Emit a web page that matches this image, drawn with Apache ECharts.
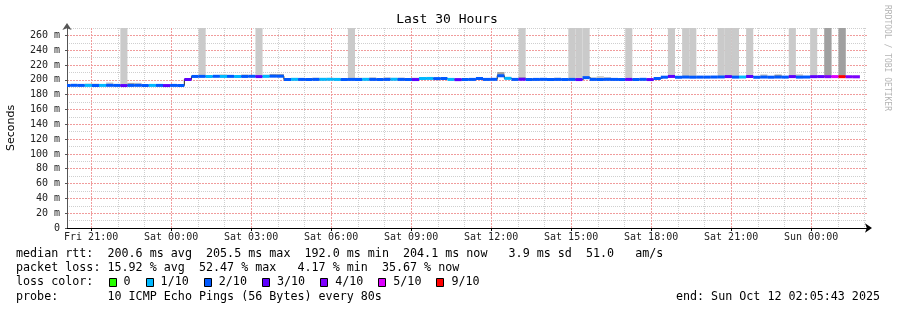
<!DOCTYPE html>
<html><head><meta charset="utf-8">
<script src="https://cdn.jsdelivr.net/npm/echarts@6/dist/echarts.min.js"></script>
<style>html,body{margin:0;padding:0;background:#fff}#c{width:897px;height:310px}</style>
</head><body><div id="c"></div><script>
// time in hours counted from Fri 00:00
const startHour = 20 + 5 / 60 + 43 / 3600;   // Fri 20:05:43
const spanHours = 30;
const stepMinutes = 16;

// median rtt per 16-minute step (ms)
const median = [
  192.4,192.6,192.5,192.5,192.4,192.5,192.6,192.5,192.3,192.5,192.6,192.4,192.5,192.5,192.3,192.5,192.4,
  200.5,
  204.6,204.7,204.5,204.8,204.6,204.7,204.5,204.6,204.8,204.4,204.7,205.0,204.9,
  200.5,200.7,200.6,200.5,200.6,200.7,200.8,200.6,200.5,200.6,200.5,200.7,200.6,200.5,200.6,
  200.8,200.6,200.5,200.4,201.8,201.9,201.7,201.8,200.6,200.3,200.5,200.6,201.8,200.6,200.7,
  205.5,202.0,
  200.6,200.8,200.5,200.6,200.7,200.5,200.6,200.5,200.6,200.4,203.0,
  200.6,200.5,200.7,200.6,200.5,200.6,200.5,200.7,200.4,201.8,
  203.6,204.6,203.5,203.8,203.6,203.7,203.7,203.8,203.9,204.4,203.7,203.8,204.5,203.5,
  203.8,203.6,203.8,203.7,204.4,203.7,203.8,204.3,204.4,204.3,204.4,204.3,204.2,204.1
];
// lost pings out of 10 per step
const lossCount = [
  2,2,2,1,2,1,2,2,3,2,2,2,1,2,3,2,2,
  3,
  2,2,1,2,1,2,1,2,2,3,1,2,2,
  2,1,2,2,2,1,1,1,2,2,2,1,2,2,2,
  1,2,2,3,1,1,2,2,1,3,2,2,2,2,2,
  2,1,
  2,3,2,2,2,2,2,2,2,3,2,
  2,2,2,2,2,3,2,2,3,2,
  2,3,2,2,2,2,2,2,2,3,2,1,3,2,
  2,2,2,2,3,2,2,3,3,4,5,9,4,4
];
// top of light smoke (ms), null = none above the median
const smokeTop = [
  194.5,194.5,null,195,195,null,196.5,null,300,196,196,null,null,null,null,null,null,
  null,
  null,300,null,null,207.5,null,null,207.5,null,300,207,208,208,
  202.5,202.5,null,202.5,203,202.5,202,null,null,300,203,null,203.5,null,203.5,
  202.5,203,null,203,null,null,null,null,202.5,202.5,null,null,null,202.5,null,
  210.5,204,
  null,300,null,null,null,null,203,null,300,300,300,
  203.5,205,203,202.5,202.5,300,null,202.5,null,203.5,
  null,300,null,300,300,null,null,null,300,300,300,null,300,null,
  207.5,null,207,null,300,207.5,null,300,null,300,null,300,null,206
];
// top of dark smoke (ms), null = none
const smokeDark = [
  null,null,null,null,null,null,null,null,null,195.5,null,null,null,null,null,null,null,
  null,
  null,null,null,null,null,null,null,null,null,null,null,207.5,207.5,
  null,null,null,null,202.5,null,null,null,null,null,null,null,null,null,null,
  null,202.5,null,null,null,null,null,null,null,null,null,null,null,null,null,
  210.5,null,
  null,203.5,null,null,null,null,null,null,null,null,null,
  null,null,203,null,null,null,null,null,null,null,
  null,null,null,null,null,null,null,null,null,null,null,null,null,null,
  null,null,207,null,null,null,null,null,null,300,null,300,null,null
];

const lossLevels = [0, 1, 2, 3, 4, 5, 9];
const lossLabels = ['0', '1/10', '2/10', '3/10', '4/10', '5/10', '9/10'];
const lossColors = ['#26ff00', '#00b8ff', '#0059ff', '#5e00ff', '#7e00ff', '#dd00ff', '#ff0000'];

const xTickValues = [21, 24, 27, 30, 33, 36, 39, 42, 45, 48];
const xTickLabels = ['Fri 21:00','Sat 00:00','Sat 03:00','Sat 06:00','Sat 09:00','Sat 12:00','Sat 15:00','Sat 18:00','Sat 21:00','Sun 00:00'];
const yTickValues = [0,20,40,60,80,100,120,140,160,180,200,220,240,260];
const yTickLabels = ['0','20 m','40 m','60 m','80 m','100 m','120 m','140 m','160 m','180 m','200 m','220 m','240 m','260 m'];
const yMinorValues = [10,30,50,70,90,110,130,150,170,190,210,230,250,270];
const yMax = 270;

const legendRows = [
  'median rtt:  200.6 ms avg  205.5 ms max  192.0 ms min  204.1 ms now   3.9 ms sd  51.0   am/s',
  'packet loss: 15.92 % avg  52.47 % max   4.17 % min  35.67 % now',
  'loss color:',
  'probe:       10 ICMP Echo Pings (56 Bytes) every 80s'
];
const endText = 'end: Sun Oct 12 02:05:43 2025';
const titleText = 'Last 30 Hours';
const sideText = 'RRDTOOL / TOBI OETIKER';

// ---- build ----
const stepH = stepMinutes / 60;
const times = median.map((_, k) => startHour + k * stepH);
const hourMinor = [];
for (let h = Math.ceil(startHour); h <= startHour + spanHours; h++) if (h % 3 !== 0) hourMinor.push(h);

function colorFor(n) {
  let c = lossColors[0];
  for (let i = 0; i < lossLevels.length; i++) if (n >= lossLevels[i]) c = lossColors[i];
  return c;
}

const chart = echarts.init(document.getElementById('c'), null, {renderer: 'canvas'});
const mono = '"DejaVu Sans Mono", monospace';
const CW = 11.7 * 0.602;
const majorGrid = {color: '#f09c9c', type: [2, 1], width: 1};
const minorGrid = {color: '#cfcfcf', type: [1, 1], width: 1};

function clipRect(x0, y0, x1, y1, params) {
  const cs = params.coordSys;
  return echarts.graphic.clipRectByRect(
    {x: Math.min(x0, x1), y: Math.min(y0, y1), width: Math.abs(x1 - x0), height: Math.abs(y1 - y0)},
    {x: cs.x, y: cs.y, width: cs.width, height: cs.height});
}

const graphic = [];
graphic.push({type: 'text', x: 447, y: 19.5, style: {text: titleText, font: '13px ' + mono, fill: '#000', textAlign: 'center', textVerticalAlign: 'middle'}});
graphic.push({type: 'text', x: 887, y: 5, rotation: -Math.PI / 2, style: {text: sideText, font: '8px ' + mono, fill: '#b4b4b4', textAlign: 'left', textVerticalAlign: 'middle'}});
const rowY = [254.3, 268.3, 282.3, 296.5];
legendRows.forEach((r, i) => graphic.push({type: 'text', x: 16, y: rowY[i], style: {text: r, font: '11.7px ' + mono, fill: '#000', textAlign: 'left', textVerticalAlign: 'middle'}}));
let bx = 16 + 13 * CW + 1;
lossLabels.forEach((lab, i) => {
  graphic.push({type: 'rect', shape: {x: Math.round(bx) + 0.5, y: 278.5, width: 7, height: 8}, style: {fill: lossColors[i], stroke: '#000', lineWidth: 1}});
  const lx = bx + 15;
  graphic.push({type: 'text', x: lx, y: rowY[2], style: {text: lab, font: '11.7px ' + mono, fill: '#000', textAlign: 'left', textVerticalAlign: 'middle'}});
  bx = lx + lab.length * CW + 15;
});
graphic.push({type: 'text', x: 880, y: rowY[3], style: {text: endText, font: '11.7px ' + mono, fill: '#000', textAlign: 'right', textVerticalAlign: 'middle'}});

const option = {
  backgroundColor: '#fff',
  animation: false,
  grid: {left: 67, top: 28, width: 800, height: 200, containLabel: false, outerBoundsMode: 'none'},
  xAxis: [{
    type: 'value', min: startHour, max: startHour + spanHours, position: 'top',
    axisLine: {show: false}, axisLabel: {show: false},
    axisTick: {show: false, customValues: hourMinor},
    splitLine: {show: true, lineStyle: minorGrid}
  }, {
    type: 'value', min: startHour, max: startHour + spanHours, position: 'bottom',
    axisLine: {show: true, onZero: false, symbol: ['none', 'arrow'], symbolSize: [7, 7], symbolOffset: [0, 5], lineStyle: {color: '#000', width: 1}},
    axisTick: {show: true, length: 3, customValues: xTickValues, lineStyle: {color: '#000'}},
    axisLabel: {customValues: xTickValues, formatter: v => xTickLabels[xTickValues.indexOf(v)] || '', fontFamily: mono, fontSize: 10, color: '#222', margin: 4},
    splitLine: {show: true, lineStyle: majorGrid}
  }],
  yAxis: [{
    type: 'value', min: 0, max: yMax, position: 'right',
    axisLine: {show: false}, axisLabel: {show: false},
    axisTick: {show: false, customValues: yMinorValues},
    splitLine: {show: true, lineStyle: minorGrid}
  }, {
    type: 'value', min: 0, max: yMax, position: 'left',
    name: 'Seconds', nameLocation: 'middle', nameGap: 50, nameRotate: 90,
    nameTextStyle: {fontFamily: '"DejaVu Sans"', fontSize: 11, color: '#000'},
    axisLine: {show: true, symbol: ['none', 'arrow'], symbolSize: [7, 7], symbolOffset: [0, 5], lineStyle: {color: '#555', width: 1}},
    axisTick: {show: true, length: 2, customValues: yTickValues, lineStyle: {color: '#555'}},
    axisLabel: {customValues: yTickValues, formatter: v => yTickLabels[yTickValues.indexOf(v)] || '', fontFamily: mono, fontSize: 10, color: '#222', margin: 7},
    splitLine: {show: true, lineStyle: majorGrid}
  }],
  graphic: graphic,
  series: [{
    type: 'custom', z: 1, silent: true, xAxisIndex: 1, yAxisIndex: 1,
    data: median.map((m, k) => [times[k], m, smokeTop[k] == null ? m : smokeTop[k], smokeDark[k] == null ? m : smokeDark[k]]),
    renderItem: (params, api) => {
      const t = api.value(0), m = api.value(1), hi = api.value(2), dk = api.value(3);
      const children = [];
      const a = api.coord([t - stepH / 2, m]), b = api.coord([t + stepH / 2, hi]);
      if (hi > m) {
        const s = clipRect(a[0], a[1], b[0], b[1], params);
        if (s) children.push({type: 'rect', shape: s, style: {fill: '#cacaca'}});
      }
      if (dk > m) {
        const c = api.coord([t + stepH / 2, dk]);
        const s = clipRect(a[0], a[1], c[0], c[1], params);
        if (s) children.push({type: 'rect', shape: s, style: {fill: '#a0a0a0'}});
      }
      return {type: 'group', children};
    }
  }, {
    type: 'line', z: 2, step: 'middle', symbol: 'none', silent: true, xAxisIndex: 1, yAxisIndex: 1,
    data: median.map((m, k) => [times[k], m]),
    lineStyle: {color: '#202020', width: 1}
  }, {
    type: 'custom', z: 3, silent: true, xAxisIndex: 1, yAxisIndex: 1,
    data: median.map((m, k) => [times[k], m, lossCount[k]]),
    renderItem: (params, api) => {
      const t = api.value(0), m = api.value(1), l = api.value(2);
      const a = api.coord([t - stepH / 2, m]), b = api.coord([t + stepH / 2, m]);
      const s = clipRect(a[0], a[1] - 1.5, b[0], a[1] + 1.5, params);
      if (!s) return null;
      return {type: 'rect', shape: s, style: {fill: colorFor(l)}};
    }
  }]
};
chart.setOption(option);
</script></body></html>
